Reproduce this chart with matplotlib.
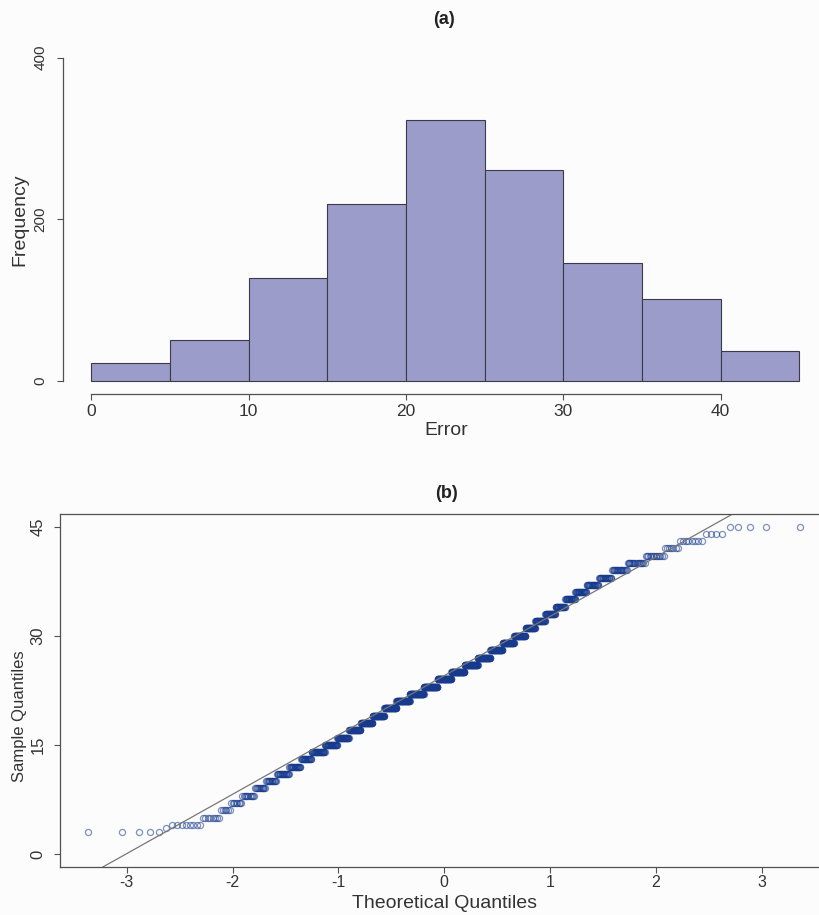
import numpy as np
import matplotlib
matplotlib.use('Agg')
import matplotlib.pyplot as plt
from statistics import NormalDist

err_values = [3, 3.5, 4, 5,
              6, 7, 8, 9, 10,
              11, 12, 13, 14, 15,
              16, 17, 18, 19, 20,
              21, 22, 23, 24, 25,
              26, 27, 28, 29, 30,
              31, 32, 33, 34, 35,
              36, 37, 38, 39, 40,
              41, 42, 43, 44, 45]
err_counts = [5, 1, 8, 8,
              6, 8, 11, 12, 14,
              19, 21, 22, 32, 34,
              36, 40, 44, 47, 52,
              60, 66, 66, 67, 64,
              62, 57, 52, 47, 43,
              34, 32, 30, 26, 24,
              24, 22, 20, 19, 17,
              13, 7, 8, 4, 5]
breaks = [0, 5, 10, 15, 20, 25, 30, 35, 40, 45]
hist_xticks = [0, 10, 20, 30, 40]
hist_yticks = [0, 200, 400]
qq_xticks = [-3, -2, -1, 0, 1, 2, 3]
qq_yticks = [0, 15, 30, 45]

err = np.repeat(np.array(err_values, dtype=float), err_counts)
n = len(err)

# R style hist: right-closed bins, lowest included
counts = []
for i in range(len(breaks) - 1):
    lo, hi = breaks[i], breaks[i + 1]
    if i == 0:
        counts.append(int(((err >= lo) & (err <= hi)).sum()))
    else:
        counts.append(int(((err > lo) & (err <= hi)).sum()))

# qqnorm / qqline
nd = NormalDist()
ppts = (np.arange(1, n + 1) - 0.5) / n
theo = np.array([nd.inv_cdf(p) for p in ppts])
samp = np.sort(err)
q1, q3 = np.percentile(err, [25, 75])
z1, z3 = nd.inv_cdf(0.25), nd.inv_cdf(0.75)
slope = (q3 - q1) / (z3 - z1)
icpt = q1 - slope * z1

W, H = 819, 915
fig = plt.figure(figsize=(W / 100, H / 100), dpi=100)
fig.patch.set_facecolor('#fcfcfc')
plt.rcParams['font.family'] = ['Liberation Sans', 'DejaVu Sans']

def px_axes(l, r, t, b):
    return fig.add_axes([l / W, 1 - b / H, (r - l) / W, (b - t) / H])

def px_text(x, y, s, **kw):
    fig.text(x / W, 1 - y / H, s, ha='center', va='center', **kw)

axcol = '#505050'
txtcol = '#333333'

# ---- (a) histogram
ax1 = px_axes(63.1, 827.6, 44.8, 393.9)
ax1.set_facecolor('none')
ax1.bar(breaks[:-1], counts, width=5, align='edge', color='#9c9ccb',
        edgecolor='#3a3a4a', linewidth=0.8)
ax1.set_xlim(-1.8, 46.8)
ax1.set_ylim(-16, 416)
for s in ['top', 'right']:
    ax1.spines[s].set_visible(False)
ax1.spines['bottom'].set_bounds(0, 40)
ax1.spines['left'].set_bounds(0, 400)
for s in ['bottom', 'left']:
    ax1.spines[s].set_color(axcol)
    ax1.spines[s].set_linewidth(0.9)
ax1.set_xticks(hist_xticks)
ax1.set_yticks(hist_yticks)
ax1.tick_params(axis='x', length=4.5, pad=3, labelsize=12.5, colors=axcol, labelcolor=txtcol)
ax1.tick_params(axis='y', length=4.5, pad=7, labelsize=11, colors=axcol, labelcolor=txtcol)
plt.setp(ax1.get_yticklabels(), rotation=90, va='center')

px_text(444, 20, '(a)', fontsize=13, fontweight='bold', color='#222222')
px_text(446, 430, 'Error', fontsize=14, color=txtcol)
px_text(20, 220, 'Frequency', fontsize=14, rotation=90, color=txtcol)

# ---- (b) normal Q-Q plot
ax2 = px_axes(60, 828.3, 513.5, 867)
ax2.set_facecolor('none')
ax2.plot(theo, samp, 'o', ms=4.4, mfc='none', mec='#173a8c', mew=0.9, alpha=0.55)
ax2.axline((0, icpt), slope=slope, color='#777777', lw=0.9)
pad = 0.04 * (theo.max() - theo.min())
ax2.set_xlim(theo.min() - pad, theo.max() + pad)
ax2.set_ylim(-1.8, 46.8)
for s in ax2.spines.values():
    s.set_color(axcol)
    s.set_linewidth(0.9)
ax2.set_xticks(qq_xticks)
ax2.set_yticks(qq_yticks)
ax2.set_xticklabels([str(t) for t in qq_xticks])
ax2.tick_params(axis='x', length=4, pad=2, labelsize=11.5, colors=axcol, labelcolor=txtcol)
ax2.tick_params(axis='y', length=4, pad=6.5, labelsize=12, colors=axcol, labelcolor=txtcol)
plt.setp(ax2.get_yticklabels(), rotation=90, va='center')

px_text(447, 493, '(b)', fontsize=13, fontweight='bold', color='#222222')
px_text(445, 903, 'Theoretical Quantiles', fontsize=14, color=txtcol)
px_text(20, 716, 'Sample Quantiles', fontsize=12, rotation=90, color=txtcol)

fig.savefig('out.png', dpi=100, facecolor=fig.get_facecolor())
